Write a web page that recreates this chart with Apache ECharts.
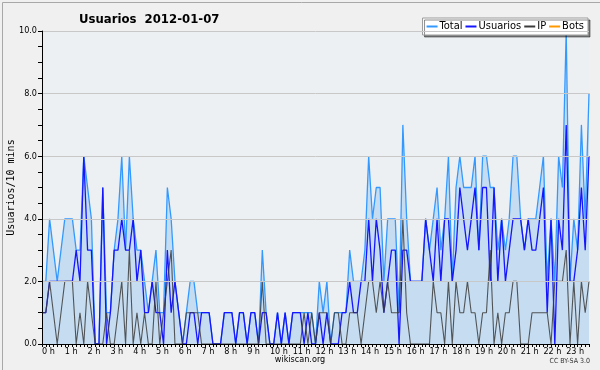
<!DOCTYPE html>
<html><head><meta charset="utf-8">
<script src="https://cdn.jsdelivr.net/npm/echarts@6/dist/echarts.min.js"></script>
<style>html,body{margin:0;padding:0;background:#f0f0f0}#c{width:600px;height:370px}</style>
</head><body><div id="c"></div><script>
// Hour tick labels (one every 6 slots of 10 minutes)
const hourLabels = ['0 h','1 h','2 h','3 h','4 h','5 h','6 h','7 h','8 h','9 h','10 h','11 h',
  '12 h','13 h','14 h','15 h','16 h','17 h','18 h','19 h','20 h','21 h','22 h','23 h'];
const legendNames = ['Total','Usuarios','IP','Bots'];

// Values per 10-minute slot (145 slots, 00:00 .. 24:00)
const total = [
  2,2,4,3,2,3,4,4,4,3,3,6,
  5,4,0,0,5,1,1,3,4,6,3,6,
  4,3,3,2,1,2,3,1,1,5,4,2,
  1,0,1,2,2,1,1,1,1,0,0,0,
  1,1,1,0,1,1,0,1,1,0,3,1,
  0,0,1,0,1,0,1,1,1,1,1,1,
  0,2,1,2,0,1,1,1,1,3,2,2,
  2,3,6,4,5,5,2,4,4,4,1,7,
  4,2,2,2,2,4,3,4,5,3,4,6,
  2,5,6,5,5,5,6,3,6,6,5,5,
  3,4,3,4,6,6,4,3,4,4,4,5,
  6,2,4,2,6,5,10,2,4,3,7,4,
  8];
const usuarios = [
  1,1,2,2,2,2,2,2,2,3,2,6,
  3,3,0,0,5,0,1,3,3,4,3,3,
  4,2,3,1,1,2,1,1,0,3,1,2,
  1,0,0,1,1,0,1,1,1,0,0,0,
  1,1,1,0,1,1,0,1,1,0,1,1,
  0,0,1,0,1,0,1,1,1,0,1,0,
  0,1,0,1,0,0,0,1,1,2,1,1,
  2,2,4,2,4,3,1,2,3,3,0,3,
  3,2,2,2,2,4,3,2,4,2,4,4,
  2,3,5,4,3,4,5,3,5,5,2,5,
  2,4,2,3,4,4,4,3,4,3,3,4,
  5,1,4,0,4,3,7,2,2,3,5,3,
  6];
const ip = [
  1,1,2,1,0,1,2,2,2,0,1,0,
  2,1,0,0,0,1,0,0,1,2,0,3,
  0,1,0,1,0,0,2,0,1,2,3,0,
  0,0,1,1,1,1,0,0,0,0,0,0,
  0,0,0,0,0,0,0,0,0,0,2,0,
  0,0,0,0,0,0,0,0,0,1,0,1,
  0,1,1,1,0,1,1,0,0,1,1,1,
  0,1,2,2,1,2,1,2,1,1,1,4,
  1,0,0,0,0,0,0,2,1,1,0,2,
  0,2,1,1,2,1,1,0,1,1,3,0,
  1,0,1,1,2,2,0,0,0,1,1,1,
  1,1,0,2,2,2,3,0,2,0,2,1,
  2];
const bots = [
  0,0,0,0,0,0,0,0,0,0,0,0,
  0,0,0,0,0,0,0,0,0,0,0,0,
  0,0,0,0,0,0,0,0,0,0,0,0,
  0,0,0,0,0,0,0,0,0,0,0,0,
  0,0,0,0,0,0,0,0,0,0,0,0,
  0,0,0,0,0,0,0,0,0,0,0,0,
  0,0,0,0,0,0,0,0,0,0,0,0,
  0,0,0,0,0,0,0,0,0,0,0,0,
  0,0,0,0,0,0,0,0,0,0,0,0,
  0,0,0,0,0,0,0,0,0,0,0,0,
  0,0,0,0,0,0,0,0,0,0,0,0,
  0,0,0,0,0,0,0,0,0,0,0,0,
  0];
const slots = total.map((_, i) => String(i));

const FONT = 'DejaVu Sans Condensed';
const chart = echarts.init(document.getElementById('c'));
chart.setOption({
  animation: false,
  backgroundColor: '#f0f0f0',
  title: {
    text: 'Usuarios  2012-01-07', left: 74, top: 8,
    textStyle: {fontFamily: FONT, fontWeight: 'bold', fontSize: 13, color: '#000'}
  },
  legend: {
    data: legendNames, right: 12, top: 18, orient: 'horizontal',
    icon: 'rect', itemWidth: 11, itemHeight: 2, itemGap: 3,
    padding: [3, 4, 3, 4],
    backgroundColor: '#fff', borderColor: '#9a9a9a', borderWidth: 1,
    shadowColor: 'rgba(0,0,0,0.45)', shadowOffsetX: 2, shadowOffsetY: 2, shadowBlur: 0,
    textStyle: {fontFamily: FONT, fontSize: 11, color: '#000', padding: [0, 0, 0, -3]}
  },
  grid: {left: 42, right: 11, top: 31, bottom: 26, outerBoundsMode: 'none', containLabel: false,
         show: true, backgroundColor: '#edf0f3', borderWidth: 0},
  xAxis: {
    type: 'category', data: slots, boundaryGap: false, z: 10,
    axisLine: {lineStyle: {color: '#000', width: 1}},
    axisTick: {show: true, interval: 0, length: 3, lineStyle: {color: '#000'}},
    axisLabel: {
      interval: (i) => i % 6 === 0 && i < 144,
      formatter: (v, i) => hourLabels[Math.round(i / 6)],
      align: 'left', fontSize: 9, color: '#000', margin: 3, fontFamily: FONT
    },
    splitLine: {show: false}
  },
  yAxis: {
    type: 'value', min: 0, max: 10, interval: 2, z: 10,
    name: 'Usuarios/10 mins', nameLocation: 'middle', nameGap: 26, nameRotate: 90,
    nameMoveOverlap: false,
    nameTextStyle: {fontFamily: 'DejaVu Sans Mono', fontSize: 10, color: '#000'},
    axisLine: {show: true, lineStyle: {color: '#000'}},
    axisTick: {show: true, length: 4, lineStyle: {color: '#000'}},
    minorTick: {show: true, splitNumber: 4, length: 4, lineStyle: {color: '#000'}},
    axisLabel: {formatter: (v) => v.toFixed(1), fontSize: 9, color: '#000', margin: 5, fontFamily: FONT},
    splitLine: {lineStyle: {color: '#c8c8c8'}}
  },
  series: [
    {name: 'Total', type: 'line', data: total, showSymbol: false, symbol: 'none', z: 2,
     color: '#3399ff', lineStyle: {color: '#3399ff', width: 1.3},
     areaStyle: {color: '#c6dcf0', opacity: 1}},
    {name: 'Usuarios', type: 'line', data: usuarios, showSymbol: false, symbol: 'none', z: 3,
     color: '#1515ff', lineStyle: {color: '#1515ff', width: 1.3}},
    {name: 'IP', type: 'line', data: ip, showSymbol: false, symbol: 'none', z: 4,
     color: '#3c3c3c', lineStyle: {color: '#3c3c3c', width: 1.1, opacity: 0.85}},
    {name: 'Bots', type: 'line', data: bots, showSymbol: false, symbol: 'none', z: 1,
     color: '#ff9900', lineStyle: {color: '#ff9900', width: 1.5}}
  ],
  graphic: [
    {type: 'rect', left: 0, top: 0, shape: {x: 0.5, y: 0.5, width: 599, height: 369},
     style: {fill: 'none', stroke: '#a8a8a8', lineWidth: 1}, silent: true},
    {type: 'text', left: 'center', top: 355, style: {text: 'wikiscan.org', font: '9px "DejaVu Sans Condensed"', fill: '#000'}},
    {type: 'text', right: 10, top: 358, style: {text: 'CC BY-SA 3.0', font: '7px "DejaVu Sans Condensed"', fill: '#333'}}
  ]
});
</script></body></html>
